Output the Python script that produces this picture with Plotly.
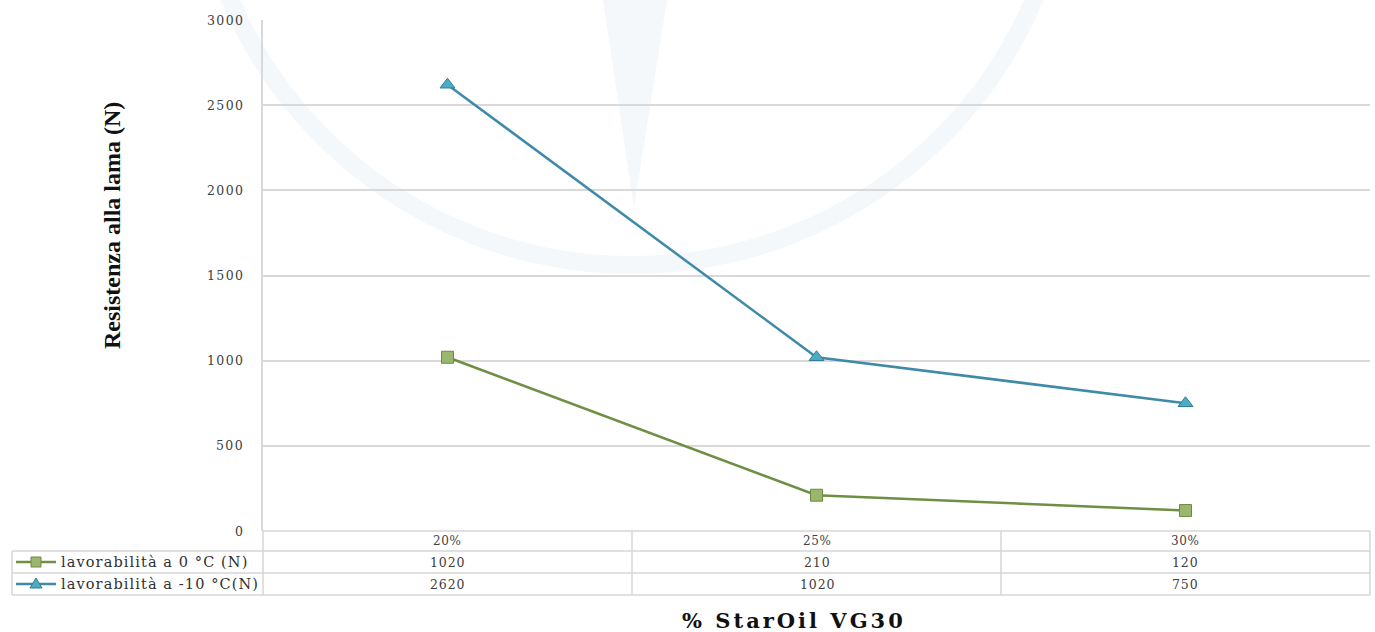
import plotly.graph_objects as go

# Data
categories = ["20%", "25%", "30%"]
series_names = ["lavorabilità a 0 °C (N)", "lavorabilità a -10 °C(N)"]
values_0c = [1020, 210, 120]
values_m10c = [2620, 1020, 750]
y_ticks = [0, 500, 1000, 1500, 2000, 2500, 3000]

W, H = 1375, 632
L, R, T, B = 263, 1370, 20, 531


def px(x):
    return (x - L) / (R - L)


def py(y):
    return (B - y) / (B - T)


def spaced(text, ls):
    return f'<span style="letter-spacing:{ls}px">{text}</span>'


WIDE_SERIF = "DejaVu Serif, serif"
TIMES = "Liberation Serif, Times New Roman, serif"
GREEN_LINE = "#6f8f45"
GREEN_FILL = "#9bb66f"
BLUE_LINE = "#3f8aa8"
BLUE_FILL = "#4bacc6"
GRID = "#d9d9d9"
TEXT = "#404040"

xs = list(range(len(categories)))

fig = go.Figure()
fig.add_trace(go.Scatter(
    x=xs, y=values_0c, mode="lines+markers", name=series_names[0],
    line=dict(color=GREEN_LINE, width=2.5),
    marker=dict(symbol="square", size=12, color=GREEN_FILL,
                line=dict(color="#71893f", width=1)),
))
fig.add_trace(go.Scatter(
    x=xs, y=values_m10c, mode="lines+markers", name=series_names[1],
    line=dict(color=BLUE_LINE, width=2.5),
    marker=dict(symbol="triangle-up", size=13, color=BLUE_FILL,
                line=dict(color="#357d91", width=1)),
))

shapes = []
annotations = []

# Faint watermark logo behind the plot
wm = "rgba(222,232,242,0.32)"
cx, cy, r = 632, -172, 437
shapes.append(dict(type="circle", xref="paper", yref="paper",
                   x0=px(cx - r), x1=px(cx + r), y0=py(cy + r), y1=py(cy - r),
                   line=dict(color=wm, width=18), layer="below"))
shapes.append(dict(type="path", xref="paper", yref="paper",
                   path=f"M {px(603)} {py(0)} L {px(667)} {py(0)} L {px(634)} {py(208)} Z",
                   fillcolor=wm, line=dict(width=0), layer="below"))

# Category axis baseline
line_gray = dict(color="#d6d6d6", width=1.5)
shapes.append(dict(type="line", xref="paper", yref="paper",
                   x0=0, x1=1, y0=0, y1=0, line=line_gray))

# Data table below the plot
for yy in (551, 573, 595):
    shapes.append(dict(type="line", xref="paper", yref="paper",
                       x0=px(12), x1=px(R), y0=py(yy), y1=py(yy), line=line_gray))
for xx in (L, 632, 1001, R):
    shapes.append(dict(type="line", xref="paper", yref="paper",
                       x0=px(xx), x1=px(xx), y0=py(531), y1=py(595), line=line_gray))
shapes.append(dict(type="line", xref="paper", yref="paper",
                   x0=px(12), x1=px(12), y0=py(551), y1=py(595), line=line_gray))

col_centers = [447, 817, 1185]
for c, cat in zip(col_centers, categories):
    annotations.append(dict(x=px(c), y=py(541), xref="paper", yref="paper",
                            text=spaced(cat, 0.6), showarrow=False,
                            xanchor="center", yanchor="middle",
                            font=dict(family=WIDE_SERIF, size=12, color=TEXT)))

row_y = [562, 584]
rows = [values_0c, values_m10c]
for ry, vals in zip(row_y, rows):
    for c, v in zip(col_centers, vals):
        annotations.append(dict(x=px(c), y=py(ry), xref="paper", yref="paper",
                                text=spaced(str(v), 0.9), showarrow=False,
                                xanchor="center", yanchor="middle",
                                font=dict(family=WIDE_SERIF, size=12.5, color=TEXT)))

# Legend keys inside the table
key_styles = [(GREEN_LINE, GREEN_FILL, "#71893f", "square"),
              (BLUE_LINE, BLUE_FILL, "#357d91", "triangle")]
for ry, name, (lc, fc, bc, sym) in zip(row_y, series_names, key_styles):
    shapes.append(dict(type="line", xref="paper", yref="paper",
                       x0=px(16), x1=px(56), y0=py(ry), y1=py(ry),
                       line=dict(color=lc, width=2.5)))
    if sym == "square":
        shapes.append(dict(type="rect", xref="paper", yref="paper",
                           x0=px(31), x1=px(41), y0=py(ry + 5), y1=py(ry - 5),
                           fillcolor=fc, line=dict(color=bc, width=1)))
    else:
        shapes.append(dict(type="path", xref="paper", yref="paper",
                           path=f"M {px(30)} {py(ry + 4)} L {px(42)} {py(ry + 4)} L {px(36)} {py(ry - 6)} Z",
                           fillcolor=fc, line=dict(color=bc, width=1)))
    annotations.append(dict(x=px(59), y=py(ry), xref="paper", yref="paper",
                            text=spaced(name, 1.1), showarrow=False,
                            xanchor="left", yanchor="middle",
                            font=dict(family=WIDE_SERIF, size=14.5, color="#303030")))

# Y tick labels
for v in y_ticks:
    annotations.append(dict(x=px(246), y=py(B - (B - T) * v / y_ticks[-1]),
                            xref="paper", yref="paper",
                            text=spaced(str(v), 1.4), showarrow=False,
                            xanchor="right", yanchor="middle",
                            font=dict(family=WIDE_SERIF, size=12.5, color=TEXT)))

# Axis titles
annotations.append(dict(x=px(112), y=py(226), xref="paper", yref="paper",
                        text="<b>Resistenza alla lama (N)</b>", showarrow=False,
                        textangle=-90, xanchor="center", yanchor="middle",
                        font=dict(family=TIMES, size=24, color="#111111")))
annotations.append(dict(x=px(794), y=py(620), xref="paper", yref="paper",
                        text=spaced("<b>% StarOil VG30</b>", 3.0), showarrow=False,
                        xanchor="center", yanchor="middle",
                        font=dict(family=WIDE_SERIF, size=21, color="#111111")))

fig.update_layout(
    width=W, height=H,
    margin=dict(l=L, r=W - R, t=T, b=H - B, pad=0),
    paper_bgcolor="white", plot_bgcolor="rgba(0,0,0,0)",
    showlegend=False,
    shapes=shapes, annotations=annotations,
    xaxis=dict(range=[-0.5, len(categories) - 0.5], showticklabels=False,
               showgrid=False, zeroline=False, showline=False, fixedrange=True),
    yaxis=dict(range=[0, 3000], tickvals=y_ticks, showticklabels=False,
               showgrid=True, gridcolor=GRID, gridwidth=1.5,
               zeroline=False, showline=True, linecolor=GRID, linewidth=1.5,
               ticks=""),
)

fig.write_html("out.html")
